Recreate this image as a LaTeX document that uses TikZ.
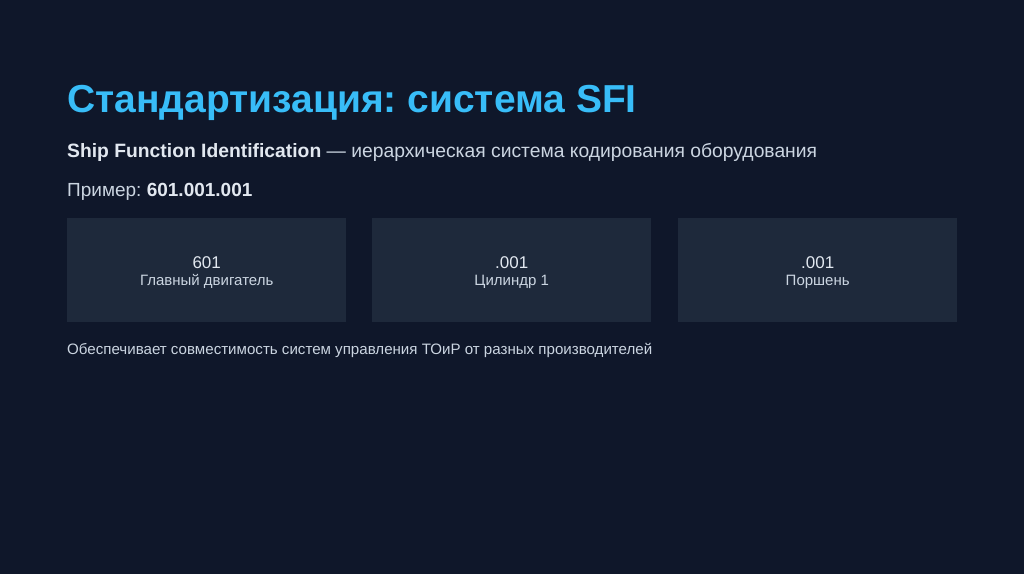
\documentclass[tikz,border=0pt]{standalone}
\usepackage{fontspec}
\setmainfont{Liberation Sans}
\frenchspacing
\definecolor{bgcol}{HTML}{0F172A}
\definecolor{boxcol}{HTML}{1E293B}
\definecolor{titlecol}{HTML}{38BDF8}
\definecolor{maintext}{HTML}{E2E8F0}
\definecolor{softtext}{HTML}{CBD5E1}
\tikzset{
  codebox/.style={fill=boxcol, draw=none, minimum width=279pt, minimum height=104pt, inner sep=0pt},
  codenum/.style={text=maintext, font=\fontsize{17}{20}\selectfont, inner sep=0pt},
  codelabel/.style={text=softtext, font=\fontsize{15}{18}\selectfont, inner sep=0pt}
}
\begin{document}
\begin{tikzpicture}[x=1pt, y=-1pt]
        \fill[bgcol] (0,0) rectangle (1024,574);
        \useasboundingbox (0,0) rectangle (1024,574);

        \node[anchor=base west, inner sep=0pt, text=titlecol, font=\fontsize{39}{46}\selectfont\bfseries] (title) at (67,112) {Стандартизация: система SFI};
        \node[anchor=base west, inner sep=0pt, text=softtext, font=\fontsize{19.3}{23}\selectfont] (subtitle) at (67,157) {\textbf{\color{maintext}Ship Function Identification} — иерархическая система кодирования оборудования};
        \node[anchor=base west, inner sep=0pt, text=softtext, font=\fontsize{19}{23}\selectfont] (example) at (67,196) {Пример: \textbf{\color{maintext}601.001.001}};

        \node[codebox, anchor=north west] (box1) at (67,218) {};
        \node[codebox, anchor=north west] (box2) at (372,218) {};
        \node[codebox, anchor=north west] (box3) at (678,218) {};

        \node[codenum, anchor=base] (num1) at ([yshift=-50pt]box1.north) {601};
        \node[codelabel, anchor=base] (lab1) at ([yshift=-67pt]box1.north) {Главный двигатель};
        \node[codenum, anchor=base] (num2) at ([yshift=-50pt]box2.north) {.001};
        \node[codelabel, anchor=base] (lab2) at ([yshift=-67pt]box2.north) {Цилиндр 1};
        \node[codenum, anchor=base] (num3) at ([yshift=-50pt]box3.north) {.001};
        \node[codelabel, anchor=base] (lab3) at ([yshift=-67pt]box3.north) {Поршень};

        \node[anchor=base west, inner sep=0pt, text=softtext, font=\fontsize{15.1}{18}\selectfont] (note) at (67,354) {Обеспечивает совместимость систем управления ТОиР от разных производителей};
    \end{tikzpicture}
\end{document}
